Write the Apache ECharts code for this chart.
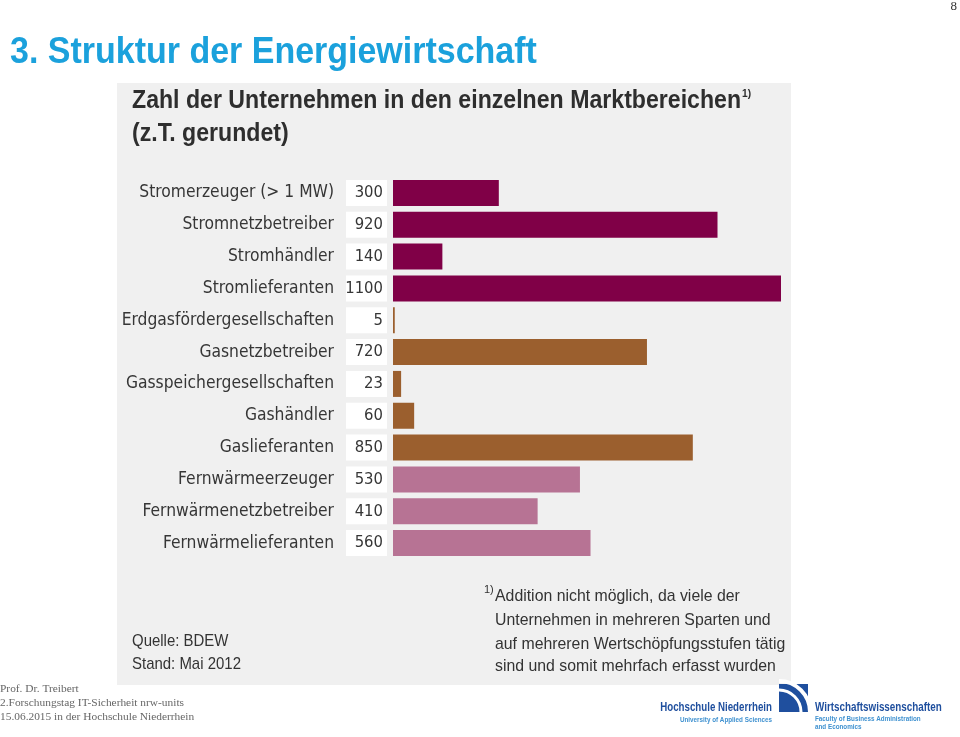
<!DOCTYPE html>
<html>
<head>
<meta charset="utf-8">
<script src="https://cdn.jsdelivr.net/npm/echarts@6/dist/echarts.min.js"></script>
<style>html,body{margin:0;padding:0;background:#fff}#c{width:960px;height:737px}</style>
</head>
<body>
<div id="c"></div>
<script>
const categories = ['Stromerzeuger (> 1 MW)','Stromnetzbetreiber','Stromhändler','Stromlieferanten','Erdgasfördergesellschaften','Gasnetzbetreiber','Gasspeichergesellschaften','Gashändler','Gaslieferanten','Fernwärmeerzeuger','Fernwärmenetzbetreiber','Fernwärmelieferanten'];
const values = [300, 920, 140, 1100, 5, 720, 23, 60, 850, 530, 410, 560];
const groups = ['Strom','Strom','Strom','Strom','Gas','Gas','Gas','Gas','Gas','Fernwärme','Fernwärme','Fernwärme'];
const groupColors = {Strom:'#800047', Gas:'#9b5f2e', 'Fernwärme':'#b77394'};
const footnoteLines = ['Addition nicht möglich, da viele der','Unternehmen in mehreren Sparten und','auf mehreren Wertschöpfungsstufen tätig','sind und somit mehrfach erfasst wurden'];
const footerLines = ['Prof. Dr. Treibert','2.Forschungstag IT-Sicherheit nrw-units','15.06.2015 in der Hochschule Niederrhein'];

const SANS = '"Liberation Sans", Arial, sans-serif';
const COND = '"DejaVu Sans Condensed", "Liberation Sans", Arial, sans-serif';
const chart = echarts.init(document.getElementById('c'), null, {renderer:'canvas'});

const graphics = [
  {type:'rect', z:-100, shape:{x:117,y:83,width:674,height:602}, style:{fill:'#f0f0f0'}},
  {type:'text', x:10, y:53, scaleX:0.944, style:{text:'3. Struktur der Energiewirtschaft', font:'bold 36px '+SANS, fill:'#1ba1dc', textVerticalAlign:'middle'}},
  {type:'text', x:957, y:7, style:{text:'8', font:'13px "Liberation Serif", serif', fill:'#333', textAlign:'right', textVerticalAlign:'middle'}},
  {type:'text', x:132, y:101, scaleX:0.925, style:{text:'{a|Zahl der Unternehmen in den einzelnen Marktbereichen}{s|1)}', rich:{a:{font:'bold 25px '+SANS, fill:'#2e2e2e'}, s:{font:'bold 11px '+SANS, fill:'#2e2e2e', verticalAlign:'top', padding:[0,0,12,1]}}, textVerticalAlign:'middle'}},
  {type:'text', x:132, y:134, scaleX:0.925, style:{text:'(z.T. gerundet)', font:'bold 25px '+SANS, fill:'#2e2e2e', textVerticalAlign:'middle'}},
  {type:'text', x:484, y:590, style:{text:'1)', font:'11px '+SANS, fill:'#333', textVerticalAlign:'middle'}},
  {type:'text', x:132, y:641, scaleX:0.88, style:{text:'Quelle: BDEW', font:'17px '+SANS, fill:'#333', textVerticalAlign:'middle'}},
  {type:'text', x:132, y:664, scaleX:0.88, style:{text:'Stand: Mai 2012', font:'17px '+SANS, fill:'#333', textVerticalAlign:'middle'}},
  // logo
  {type:'rect', shape:{x:779,y:684,width:29,height:28}, style:{fill:'#1f4f9e'}},
  {type:'arc', shape:{cx:779,cy:712,r:22,startAngle:-Math.PI/2,endAngle:0}, style:{stroke:'#ffffff',lineWidth:3,fill:null}},
  {type:'arc', shape:{cx:779,cy:712,r:31,startAngle:-Math.PI/2,endAngle:0}, style:{stroke:'#ffffff',lineWidth:4,fill:null}},
  {type:'text', x:772, y:708, scaleX:0.81, style:{text:'Hochschule Niederrhein', font:'bold 12px '+SANS, fill:'#1f4f9e', textAlign:'right', textVerticalAlign:'middle'}},
  {type:'text', x:772, y:720, scaleX:0.9, style:{text:'University of Applied Sciences', font:'bold 7px '+SANS, fill:'#3f91d0', textAlign:'right', textVerticalAlign:'middle'}},
  {type:'text', x:815, y:708, scaleX:0.82, style:{text:'Wirtschaftswissenschaften', font:'bold 12px '+SANS, fill:'#1f4f9e', textVerticalAlign:'middle'}},
  {type:'text', x:815, y:719, scaleX:0.9, style:{text:'Faculty of Business Administration', font:'bold 7px '+SANS, fill:'#3f91d0', textVerticalAlign:'middle'}},
  {type:'text', x:815, y:727, scaleX:0.9, style:{text:'and Economics', font:'bold 7px '+SANS, fill:'#3f91d0', textVerticalAlign:'middle'}}
];
footnoteLines.forEach((t,i)=>graphics.push({type:'text', x:495, y:[596,620,644,666][i], scaleX:0.932, style:{text:t, font:'17px '+SANS, fill:'#333', textVerticalAlign:'middle'}}));
footerLines.forEach((t,i)=>graphics.push({type:'text', x:0, y:689+14*i, style:{text:t, font:'11.4px "Liberation Serif", "Times New Roman", serif', fill:'#666', textVerticalAlign:'middle'}}));

chart.setOption({
  animation:false,
  backgroundColor:'#ffffff',
  graphic:{elements:graphics},
  grid:{left:393, right:179, top:177, height:382},
  xAxis:{type:'value', min:0, max:1100, show:false},
  yAxis:[
    {type:'category', data:categories, inverse:true, position:'left',
     axisLine:{show:false}, axisTick:{show:false},
     axisLabel:{margin:59, color:'#363636', fontFamily:COND, fontSize:17.3}},
    {type:'category', data:values.map(String), inverse:true, position:'left', offset:0,
     axisLine:{show:false}, axisTick:{show:false},
     axisLabel:{margin:6, color:'#363636', fontFamily:COND, fontSize:16.5, align:'right',
       backgroundColor:'#ffffff', width:33, height:26, lineHeight:26, padding:[0,4,0,4]}}
  ],
  series:[{
    type:'bar', barWidth:26, yAxisIndex:0,
    data: values.map((v,i)=>({value:v, itemStyle:{color:groupColors[groups[i]]}}))
  }]
});
</script>
</body>
</html>
